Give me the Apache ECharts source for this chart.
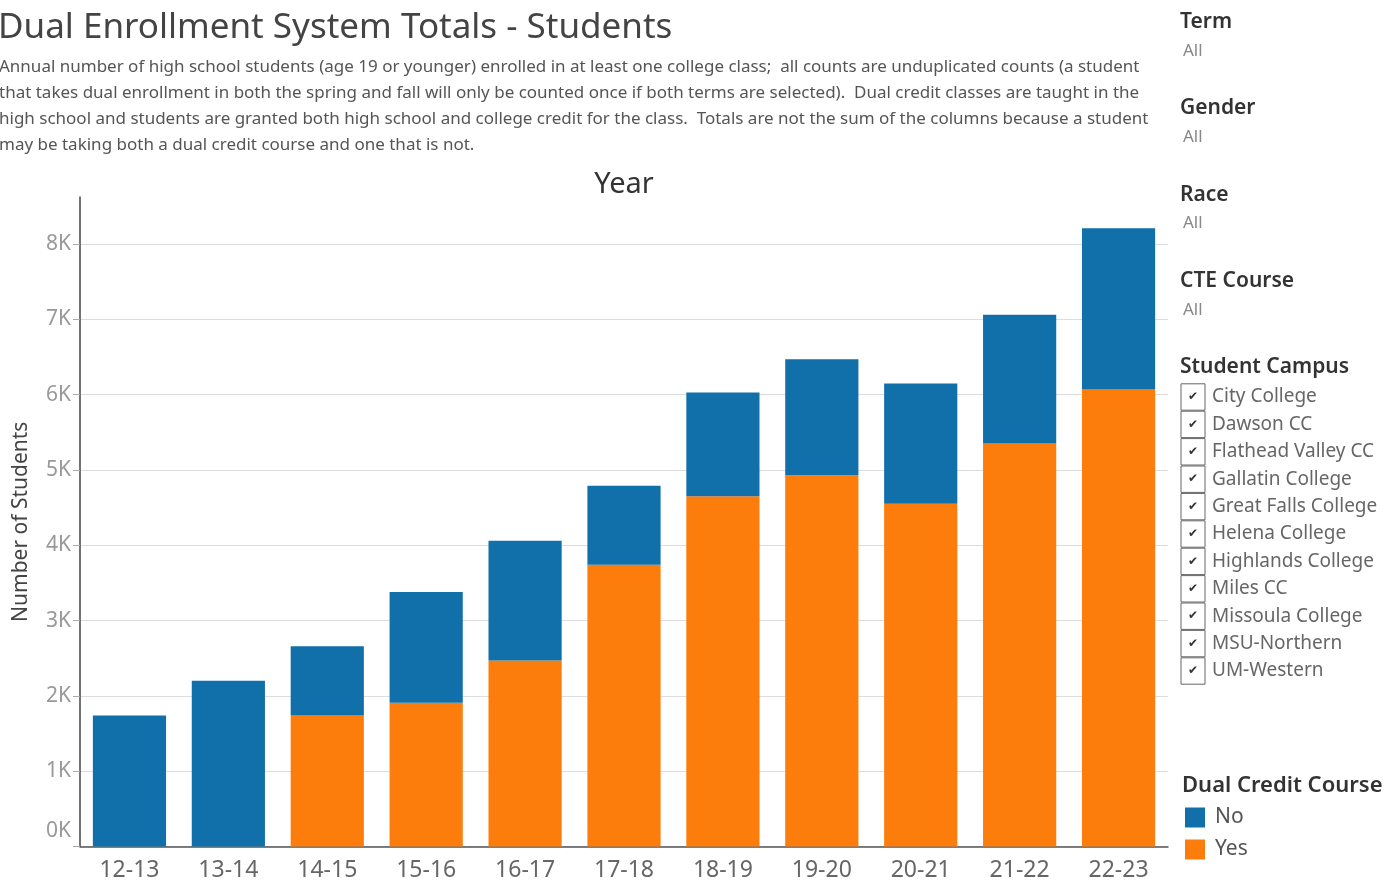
<!DOCTYPE html>
<html>
<head>
<meta charset="utf-8">
<title>Dual Enrollment System Totals - Students</title>
<script src="https://cdn.jsdelivr.net/npm/echarts@6/dist/echarts.min.js"></script>
<style>
  html, body { margin: 0; padding: 0; background: #fff; }
  #chart { width: 1386px; height: 880px; }
</style>
</head>
<body>
<div id="chart"></div>
<script>
// school years on the x axis
const years = ['12-13', '13-14', '14-15', '15-16', '16-17', '17-18', '18-19', '19-20', '20-21', '21-22', '22-23'];
// students in a dual credit course (orange, bottom of stack)
const yesValues = [0, 0, 1740, 1910, 2470, 3740, 4650, 4930, 4550, 5350, 6070];
// students not in a dual credit course (blue, top of stack)
const noValues = [1740, 2200, 920, 1470, 1590, 1050, 1380, 1540, 1600, 1710, 2140];
// y axis tick values
const yTicks = [0, 1000, 2000, 3000, 4000, 5000, 6000, 7000, 8000];

// filter panel on the right
const filters = ['Term', 'Gender', 'Race', 'CTE Course'];
const filterValue = 'All';
const campuses = ['City College', 'Dawson CC', 'Flathead Valley CC', 'Gallatin College', 'Great Falls College',
  'Helena College', 'Highlands College', 'Miles CC', 'Missoula College', 'MSU-Northern', 'UM-Western'];

const FONT = '"Noto Sans", sans-serif';
const BLUE = '#1170aa';
const ORANGE = '#fc7d0b';

let chart = echarts.init(document.getElementById('chart'));

// panel texts and checkboxes
let panel = [];
filters.forEach((f, i) => {
  panel.push({
    type: 'text', x: 1180, y: 22 + i * 86.3,
    style: { text: f, font: '600 21px ' + FONT, fill: '#333', verticalAlign: 'middle' }
  });
  panel.push({
    type: 'text', x: 1183, y: 51 + i * 86.3,
    style: { text: filterValue, font: '17px ' + FONT, fill: '#888', verticalAlign: 'middle' }
  });
});
panel.push({
  type: 'text', x: 1180, y: 367,
  style: { text: 'Student Campus', font: '600 21px ' + FONT, fill: '#333', verticalAlign: 'middle' }
});
campuses.forEach((c, i) => {
  let cy = 397 + i * 27.4;
  panel.push({
    type: 'rect', shape: { x: 1181, y: cy - 13.2, width: 24, height: 26.4 },
    style: { fill: '#fff', stroke: '#666', lineWidth: 1 }
  });
  panel.push({
    type: 'text', x: 1193, y: cy,
    style: { text: '\u2714', font: '12px "DejaVu Sans"', fill: '#333', align: 'center', verticalAlign: 'middle' }
  });
  panel.push({
    type: 'text', x: 1212, y: cy,
    style: { text: c, font: '19px ' + FONT, fill: '#666', verticalAlign: 'middle' }
  });
});
panel.push({
  type: 'text', x: 1182, y: 786,
  style: { text: 'Dual Credit Course', font: '600 22px ' + FONT, fill: '#333', verticalAlign: 'middle' }
});
panel.push({
  type: 'text', x: 624, y: 185,
  style: { text: 'Year', font: '29px ' + FONT, fill: '#333', align: 'center', verticalAlign: 'middle' }
});

let option = {
  backgroundColor: '#fff',
  animation: false,
  textStyle: { fontFamily: FONT },
  title: [
    {
      text: 'Dual Enrollment System Totals - Students',
      left: -2, top: 11, padding: 0,
      textStyle: { fontSize: 35, fontWeight: 'normal', color: '#444', fontFamily: FONT }
    },
    {
      text: 'Annual number of high school students (age 19 or younger) enrolled in at least one college class;  all counts are unduplicated counts (a student\n' +
        'that takes dual enrollment in both the spring and fall will only be counted once if both terms are selected).  Dual credit classes are taught in the\n' +
        'high school and students are granted both high school and college credit for the class.  Totals are not the sum of the columns because a student\n' +
        'may be taking both a dual credit course and one that is not.',
      left: -1, top: 54, padding: 0,
      textStyle: { fontSize: 17, fontWeight: 'normal', color: '#555', lineHeight: 26, fontFamily: FONT }
    }
  ],
  legend: {
    data: ['No', 'Yes'],
    orient: 'vertical',
    left: 1185, top: 807,
    padding: 0,
    itemWidth: 20, itemHeight: 20, itemGap: 11,
    icon: 'rect',
    textStyle: { fontSize: 21, color: '#555', padding: [0, 0, 0, 5] }
  },
  grid: { left: 80, right: 218, top: 197, bottom: 33.5, outerBoundsMode: 'none' },
  xAxis: {
    type: 'category',
    data: years,
    axisLine: { lineStyle: { color: '#555', width: 1.5 } },
    axisTick: { length: 5, lineStyle: { color: '#999' } },
    axisLabel: { fontSize: 23, color: '#666', margin: 12 }
  },
  yAxis: {
    type: 'value',
    min: 0, max: 8625,
    name: 'Number of Students',
    nameLocation: 'middle',
    nameGap: 48,
    nameTextStyle: { fontSize: 21, color: '#444' },
    axisLine: { show: true, lineStyle: { color: '#444', width: 1.5 } },
    axisTick: { show: true, length: 7, lineStyle: { color: '#aaa' }, customValues: yTicks },
    axisLabel: {
      customValues: yTicks,
      fontSize: 21, color: '#999', margin: 9,
      formatter: v => {
        if (v % 1000 !== 0) return '';
        return v === 0 ? '{z|0K}' : (v / 1000) + 'K';
      },
      rich: { z: { fontSize: 21, color: '#999', padding: [0, 0, 30, 0] } }
    },
    splitLine: {
      lineStyle: {
        color: ['#ddd', '#ddd', '#ddd', '#ddd', '#ddd', '#ddd', '#ddd', '#ddd', '#ddd', 'rgba(0,0,0,0)'],
        width: 1
      }
    }
  },
  series: [
    {
      name: 'Yes', type: 'bar', stack: 'total',
      data: yesValues,
      barCategoryGap: '26%',
      itemStyle: { color: ORANGE }
    },
    {
      name: 'No', type: 'bar', stack: 'total',
      data: noValues,
      barCategoryGap: '26%',
      itemStyle: { color: BLUE }
    }
  ],
  graphic: panel
};

chart.setOption(option);
</script>
</body>
</html>
